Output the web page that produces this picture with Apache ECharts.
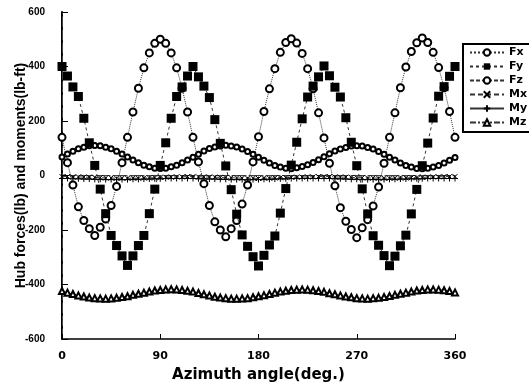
<!DOCTYPE html>
<html>
<head>
<meta charset="utf-8">
<style>
  html, body { margin: 0; padding: 0; background: #fff; }
  #chart { width: 529px; height: 384px; }
</style>
<script src="https://cdn.jsdelivr.net/npm/echarts@6/dist/echarts.min.js"></script>
</head>
<body>
<div id="chart"></div>
<script>
// Azimuth angle (deg.), sampled every 5 degrees over one rotor revolution
const azimuth = [
  0, 5, 10, 15, 20, 25, 30, 35, 40, 45, 50, 55, 60, 65, 70, 75, 80, 85, 90, 95, 100, 105, 110, 115,
  120, 125, 130, 135, 140, 145, 150, 155, 160, 165, 170, 175, 180, 185, 190, 195, 200, 205, 210, 215, 220, 225, 230, 235,
  240, 245, 250, 255, 260, 265, 270, 275, 280, 285, 290, 295, 300, 305, 310, 315, 320, 325, 330, 335, 340, 345, 350, 355,
  360
];

// Hub forces (lb)
const fx = [
  140, 47, -35, -115, -165, -195, -220, -190, -160, -110, -40, 47, 140, 233, 320, 395, 450, 485, 500, 485, 450, 395, 320, 233,
  140, 50, -30, -110, -170, -200, -225, -195, -165, -105, -35, 50, 142, 235, 318, 392, 452, 488, 502, 486, 448, 392, 318, 230,
  138, 45, -38, -118, -168, -198, -228, -192, -162, -112, -42, 45, 140, 230, 322, 398, 455, 487, 505, 488, 452, 396, 322, 235,
  140
];
const fy = [
  400, 365, 325, 290, 210, 120, 37, -50, -140, -220, -257, -295, -330, -295, -257, -220, -140, -50, 37, 120, 210, 290, 325, 365,
  400, 362, 328, 286, 205, 118, 35, -52, -142, -218, -260, -298, -332, -293, -255, -222, -138, -48, 38, 122, 208, 288, 328, 362,
  402, 366, 324, 288, 212, 122, 36, -49, -141, -221, -256, -294, -331, -296, -258, -219, -141, -51, 36, 119, 211, 291, 326, 364,
  400
];
const fz = [
  68, 79, 89, 98, 104, 109, 110, 109, 104, 98, 89, 79, 68, 57, 47, 38, 32, 27, 26, 27, 32, 38, 47, 57,
  67, 78, 90, 99, 105, 108, 111, 108, 105, 97, 88, 78, 67, 56, 46, 37, 31, 27, 25, 28, 33, 39, 48, 58,
  69, 80, 90, 97, 103, 108, 109, 108, 103, 97, 88, 78, 67, 57, 46, 37, 31, 26, 25, 27, 31, 37, 46, 56,
  66
];

// Hub moments (lb-ft)
const mx = [
  -4, -4, -5, -5, -6, -6, -7, -8, -9, -9, -10, -10, -10, -10, -10, -9, -9, -8, -7, -6, -6, -5, -5, -4,
  -4, -5, -5, -6, -6, -7, -7, -8, -9, -10, -10, -10, -11, -10, -10, -9, -8, -8, -7, -6, -6, -5, -5, -4,
  -4, -4, -5, -6, -6, -7, -8, -8, -9, -9, -10, -10, -10, -10, -9, -9, -8, -8, -7, -6, -5, -5, -4, -4,
  -4
];
const my = [
  -11, -11, -12, -12, -13, -13, -14, -14, -15, -15, -15, -15, -15, -14, -14, -13, -13, -12, -12, -11, -11, -11, -11, -11,
  -11, -12, -12, -13, -13, -14, -14, -15, -15, -15, -16, -15, -15, -14, -14, -13, -12, -12, -11, -11, -11, -11, -11, -11,
  -11, -11, -12, -12, -13, -14, -14, -15, -15, -15, -15, -15, -14, -14, -13, -13, -12, -12, -12, -11, -11, -11, -11, -11,
  -11
];
const mz = [
  -424, -430, -435, -440, -444, -448, -450, -451, -452, -451, -449, -446, -443, -438, -434, -430, -426, -422, -420, -418, -417, -418, -420, -423,
  -426, -431, -436, -440, -445, -448, -450, -452, -452, -451, -450, -447, -443, -439, -435, -430, -426, -423, -420, -419, -418, -419, -421, -424,
  -427, -432, -436, -440, -444, -447, -450, -451, -452, -450, -449, -446, -442, -438, -434, -430, -426, -422, -420, -418, -418, -419, -421, -424,
  -429
];

const xTicks = [0, 90, 180, 270, 360];
const yTicks = [-600, -400, -200, 0, 200, 400, 600];

const FONT = '"Liberation Sans", Arial, sans-serif';
const WIDE = '"DejaVu Sans", sans-serif';
const pairs = (vals) => azimuth.map((a, i) => [a, vals[i]]);

const seriesDefs = [
  { name: 'Fx', data: fx, symbol: 'emptyCircle', size: 7, bw: 0.9, line: { type: 'dotted', width: 1, color: '#333' }, z: 4 },
  { name: 'Fy', data: fy, symbol: 'rect', size: 9, line: { type: [3, 3], width: 1, color: '#333' }, fill: '#000', z: 6 },
  { name: 'Fz', data: fz, symbol: 'emptyCircle', size: 5, bw: 0.8, line: { type: [4, 2], width: 1, color: '#333' }, z: 3 },
  { name: 'Mx', data: mx, symbol: 'path://M0,0L10,10M10,0L0,10', size: 5, bw: 1, line: { type: [5, 3], width: 1, color: '#333' }, z: 2 },
  { name: 'My', data: my, symbol: 'path://M5,0L5,10M0,5L10,5', size: 6, bw: 1, line: { type: 'solid', width: 1, color: '#333' }, z: 2 },
  { name: 'Mz', data: mz, symbol: 'emptyTriangle', size: 6, bw: 0.8, line: { type: [6, 2, 2, 2], width: 1, color: '#333' }, z: 3 }
];

const series = seriesDefs.map(d => ({
  name: d.name,
  type: 'line',
  data: pairs(d.data),
  symbol: d.symbol,
  symbolSize: d.size,
  showSymbol: true,
  showAllSymbol: true,
  z: d.z,
  lineStyle: d.line,
  itemStyle: d.fill
    ? { color: d.fill, borderColor: '#000', borderWidth: 0 }
    : { color: '#000', borderColor: '#000', borderWidth: d.bw },
  emphasis: { disabled: true },
  animation: false
}));

const chart = echarts.init(document.getElementById('chart'), null, { renderer: 'canvas' });
chart.setOption({
  backgroundColor: '#fff',
  animation: false,
  grid: { left: 62, right: 74, top: 12, bottom: 45, outerBoundsMode: 'none', containLabel: false },
  legend: {
    orient: 'vertical',
    left: 463,
    top: 44,
    itemWidth: 34,
    itemHeight: 8,
    itemGap: 3,
    padding: [3, 12, 4, 6],
    borderColor: '#000',
    borderWidth: 2,
    backgroundColor: '#fff',
    textStyle: { fontFamily: WIDE, fontSize: 11, fontWeight: 'bold', color: '#000' },
    data: seriesDefs.map(d => d.name)
  },
  xAxis: [
    {
      type: 'value', min: xTicks[0], max: xTicks[xTicks.length - 1], interval: 90,
      name: 'Azimuth angle(deg.)', nameLocation: 'middle', nameGap: 29, nameMoveOverlap: false,
      nameTextStyle: { fontFamily: WIDE, fontSize: 15, fontWeight: 'bold', color: '#000' },
      axisLine: { onZero: false, lineStyle: { color: '#000', width: 1.5 } },
      axisTick: { inside: true, length: 5, lineStyle: { color: '#000' } },
      axisLabel: { margin: 12, fontFamily: WIDE, fontSize: 11, fontWeight: 'bold', color: '#000' },
      splitLine: { show: false }
    },
    {
      type: 'value', position: 'top', min: 0, max: 360, interval: 90,
      axisLine: { lineStyle: { color: '#444', width: 1, type: [14, 3] } },
      axisTick: { show: false }, axisLabel: { show: false }, splitLine: { show: false }
    }
  ],
  yAxis: [
    {
      type: 'value', min: yTicks[0], max: yTicks[yTicks.length - 1], interval: 200,
      name: 'Hub forces(lb) and moments(lb-ft)', nameLocation: 'middle', nameGap: 34, nameMoveOverlap: false,
      nameTextStyle: { fontFamily: FONT, fontSize: 14, fontWeight: 'bold', color: '#000' },
      axisLine: { onZero: false, lineStyle: { color: '#000', width: 2 } },
      axisTick: { inside: true, length: 6, lineStyle: { color: '#000' } },
      axisLabel: { margin: 17, fontFamily: FONT, fontSize: 10, fontWeight: 'bold', color: '#000' },
      splitLine: { show: false }
    },
    {
      type: 'value', position: 'right', min: -600, max: 600, interval: 200,
      axisLine: { lineStyle: { color: '#444', width: 1, type: [10, 3] } },
      axisTick: { show: false }, axisLabel: { show: false }, splitLine: { show: false }
    }
  ],
  series
});
</script>
</body>
</html>
